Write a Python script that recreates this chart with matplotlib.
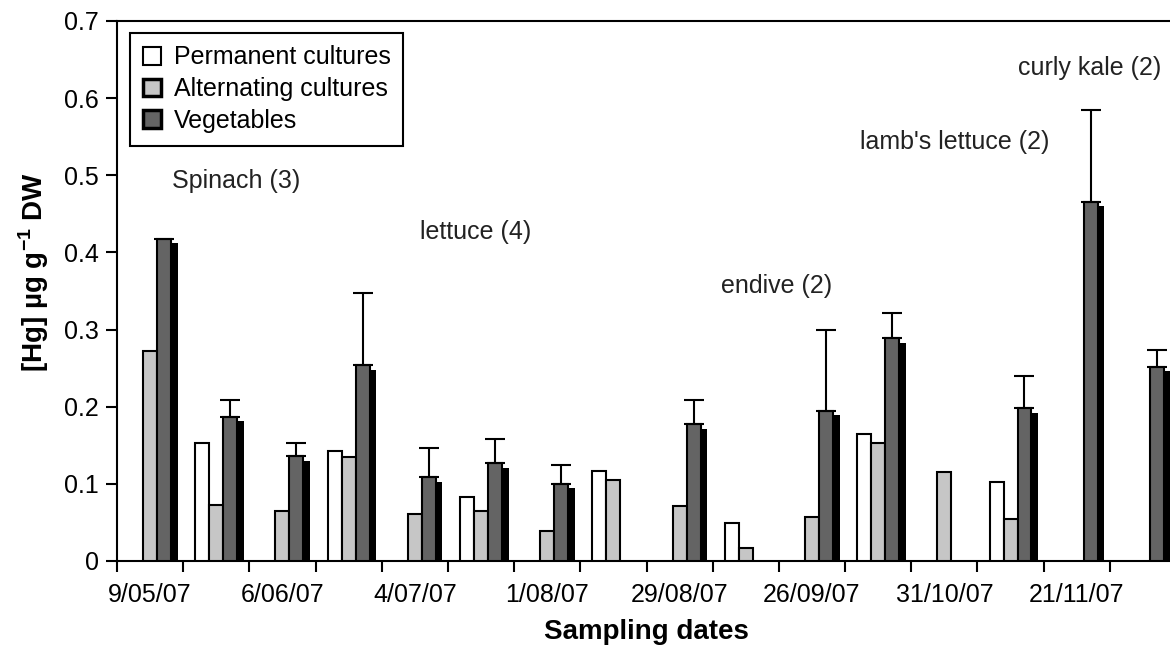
import numpy as np
import matplotlib.pyplot as plt
from matplotlib.patches import Patch

plt.rcParams['font.family'] = ['Liberation Sans', 'DejaVu Sans']
plt.rcParams['mathtext.fontset'] = 'custom'
plt.rcParams['mathtext.rm'] = 'Liberation Sans'
plt.rcParams['mathtext.bf'] = 'Liberation Sans:bold'

# sampling dates (label every second sampling)
date_labels = ['9/05/07', '6/06/07', '4/07/07', '1/08/07', '29/08/07',
               '26/09/07', '31/10/07', '21/11/07']
n_samples = 16

nan = np.nan
permanent = [nan, 0.153, nan, 0.143, nan, 0.083, nan, 0.117,
             nan, 0.049, nan, 0.164, nan, 0.102, nan, nan]
alternating = [0.272, 0.072, 0.065, 0.135, 0.061, 0.065, 0.039, 0.105,
               0.071, 0.017, 0.057, 0.153, 0.116, 0.054, nan, nan]
vegetables = [0.418, 0.187, 0.136, 0.254, 0.109, 0.127, 0.100, nan,
              0.177, nan, 0.195, 0.289, nan, 0.198, 0.466, 0.252]
veg_err = [nan, 0.022, 0.017, 0.093, 0.038, 0.031, 0.024, nan,
           0.032, nan, 0.104, 0.032, nan, 0.042, 0.119, 0.022]

crop_labels = ['Spinach (3)', 'lettuce (4)', 'endive (2)',
               "lamb's lettuce (2)", 'curly kale (2)']

fig = plt.figure(figsize=(11.7, 6.53), dpi=100)
ax = fig.add_axes([117/1170, 92/653, 1059/1170, 540/653])

x = np.arange(n_samples)
w = 0.211
veg = np.array(vegetables)

ax.bar(x - w, permanent, w, color='white', edgecolor='black', lw=1.5, zorder=3)
ax.bar(x, alternating, w, color='#c6c6c6', edgecolor='black', lw=1.5, zorder=3)
# black drop shadow behind the vegetable bars
ax.bar(x + w + 0.1, veg - 0.006, w, color='black', lw=0, zorder=2)
ax.bar(x + w, veg, w, color='#646464', edgecolor='black', lw=1.5, zorder=3)
ax.errorbar(x + w, veg, yerr=[np.zeros(n_samples), veg_err], fmt='none',
            ecolor='black', elinewidth=1.5, capsize=7, capthick=1.5, zorder=4)

# crop annotations
pos = [(0.33, 0.493), (4.08, 0.426), (8.63, 0.357), (10.72, 0.543), (13.11, 0.639)]
for lab, (px, py) in zip(crop_labels, pos):
    ax.text(px, py, lab, fontsize=18, ha='left', va='center', color='#222222')

ax.set_xlim(-0.5, n_samples - 0.5)
ax.set_ylim(0, 0.7)

ax.set_xticks(np.arange(-0.5, n_samples, 1))
ax.set_xticklabels([])
ax.set_xticks(np.arange(0, n_samples, 2), minor=True)
ax.set_xticklabels(date_labels, minor=True, fontsize=18)
ax.tick_params(axis='x', which='major', length=8, width=1.5, direction='out')
ax.tick_params(axis='x', which='minor', length=0, pad=16)

ax.set_yticks(np.arange(0, 0.71, 0.1))
ax.set_yticklabels(['0', '0.1', '0.2', '0.3', '0.4', '0.5', '0.6', '0.7'], fontsize=18)
ax.tick_params(axis='y', length=8, width=1.5, pad=5)

for s in ['left', 'bottom', 'top']:
    ax.spines[s].set_linewidth(1.5)
ax.spines['right'].set_visible(False)

ax.set_xlabel('Sampling dates', fontsize=20, fontweight='bold')
ax.set_ylabel(r'[Hg] µg g$^{\mathbf{-1}}$ DW', fontsize=20, fontweight='bold')
ax.yaxis.set_label_coords(-0.062, 0.535)
ax.xaxis.set_label_coords(0.5, -0.108)

handles = [Patch(facecolor='white', edgecolor='black', lw=1.5),
           Patch(facecolor='#c6c6c6', edgecolor='black', lw=2.5),
           Patch(facecolor='#646464', edgecolor='black', lw=2.5)]
leg = ax.legend(handles, ['Permanent cultures', 'Alternating cultures', 'Vegetables'],
                loc='upper left', bbox_to_anchor=(13/1059, 1 - 12/540), borderaxespad=0,
                fontsize=18, fancybox=False, framealpha=1, edgecolor='black',
                handlelength=0.72, handleheight=0.72, handletextpad=0.52,
                labelspacing=0.31, borderpad=0.5)
leg.get_frame().set_linewidth(1.5)

fig.savefig('out.png', dpi=100)
